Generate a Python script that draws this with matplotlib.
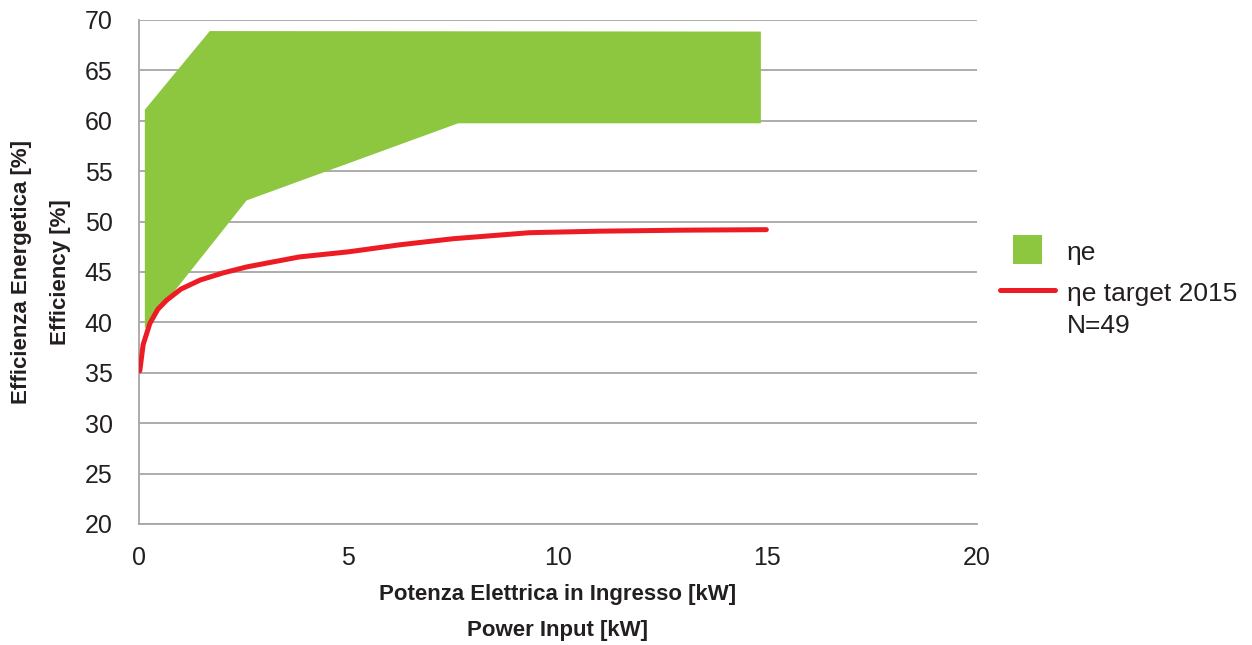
import matplotlib
matplotlib.use("Agg")
import matplotlib.pyplot as plt
from matplotlib.patches import Polygon, Patch, Rectangle
from matplotlib.lines import Line2D
from matplotlib.legend_handler import HandlerPatch

# Efficiency band (polygon outline: upper edge left->right, then lower edge right->left)
band_x = [0.14, 1.69, 14.85, 14.85, 7.62, 2.57, 0.14]
band_y = [61.1, 68.9, 68.85, 59.75, 59.75, 52.1, 39.4]

# Target efficiency curve
target_x = [0.02, 0.1, 0.26, 0.45, 0.66, 1.0, 1.46, 2.0, 2.57, 3.2, 3.84,
            5.0, 6.23, 7.5, 9.33, 11.0, 13.0, 14.98]
target_y = [35.2, 37.8, 39.9, 41.3, 42.2, 43.3, 44.2, 44.9, 45.5, 46.0, 46.5,
            47.0, 47.7, 48.3, 48.9, 49.05, 49.15, 49.2]

x_ticks = [0, 5, 10, 15, 20]
y_ticks = [20, 25, 30, 35, 40, 45, 50, 55, 60, 65, 70]

GREEN = "#8DC63F"
RED = "#ED1C24"
GRID = "#A6A6A6"
TEXT = "#231F20"
narrow = ["Liberation Sans Narrow", "DejaVu Sans Condensed", "Liberation Sans", "DejaVu Sans"]
regular = ["Liberation Sans", "DejaVu Sans"]

fig = plt.figure(figsize=(12.52, 6.45), dpi=100)
ax = fig.add_axes([0.111, 0.1876, 0.669, 0.7814])

ax.add_patch(Polygon(list(zip(band_x, band_y)), closed=True,
                     facecolor=GREEN, edgecolor="none", zorder=2))
ax.plot(target_x, target_y, color=RED, lw=3.6, solid_capstyle="round",
        solid_joinstyle="round", zorder=3)

ax.set_xlim(0, 20)
ax.set_ylim(20, 70)
ax.set_xticks(x_ticks)
ax.set_yticks(y_ticks)
ax.yaxis.grid(True, color=GRID, lw=1.3, zorder=1)
ax.set_axisbelow(True)
for s in ("top", "right"):
    ax.spines[s].set_visible(False)
for s in ("left", "bottom"):
    ax.spines[s].set_color(GRID)
    ax.spines[s].set_linewidth(1.3)
ax.tick_params(length=0, labelsize=18, labelcolor=TEXT)
ax.tick_params(axis="y", pad=19)
ax.tick_params(axis="x", pad=16)
for lab in ax.get_xticklabels() + ax.get_yticklabels():
    lab.set_family(regular)

ax.set_xlabel("Potenza Elettrica in Ingresso [kW]\nPower Input [kW]",
              family=narrow, fontsize=16, fontweight="bold", color=TEXT,
              linespacing=1.95, labelpad=10)
ax.set_ylabel("Efficienza Energetica [%]\nEfficiency [%]",
              family=narrow, fontsize=16, fontweight="bold", color=TEXT,
              linespacing=2.1, labelpad=10)


class SquareHandler(HandlerPatch):
    def create_artists(self, legend, orig_handle, xdescent, ydescent,
                       width, height, fontsize, trans):
        side = 1.22 * height
        x0 = -xdescent + (width - side) / 2
        y0 = -ydescent + (height - side) / 2 + 0.08 * height
        rect = Rectangle((x0, y0), side, side, facecolor=GREEN,
                         edgecolor="none", transform=trans)
        return [rect]


handles = [Patch(facecolor=GREEN, edgecolor="none"),
           Line2D([], [], color=RED, lw=3.6, solid_capstyle="round")]
leg = fig.legend(handles, ["ηe", "ηe target 2015"],
                 loc="upper left", bbox_to_anchor=(0.790, 0.645),
                 frameon=False, prop={"family": regular, "size": 19},
                 handlelength=2.1, handleheight=1.0, handletextpad=0.45,
                 labelspacing=0.55, borderaxespad=0,
                 handler_map={Patch: SquareHandler()})
for t in leg.get_texts():
    t.set_color(TEXT)

# sample count shown beneath the target entry
fig.canvas.draw()
tgt = leg.get_texts()[1].get_window_extent()
fig.text(tgt.x0 / fig.bbox.width, (tgt.y0 - 8) / fig.bbox.height, "N=49",
         family=regular, fontsize=19, color=TEXT, ha="left", va="top")

fig.savefig("out.png", dpi=100)
